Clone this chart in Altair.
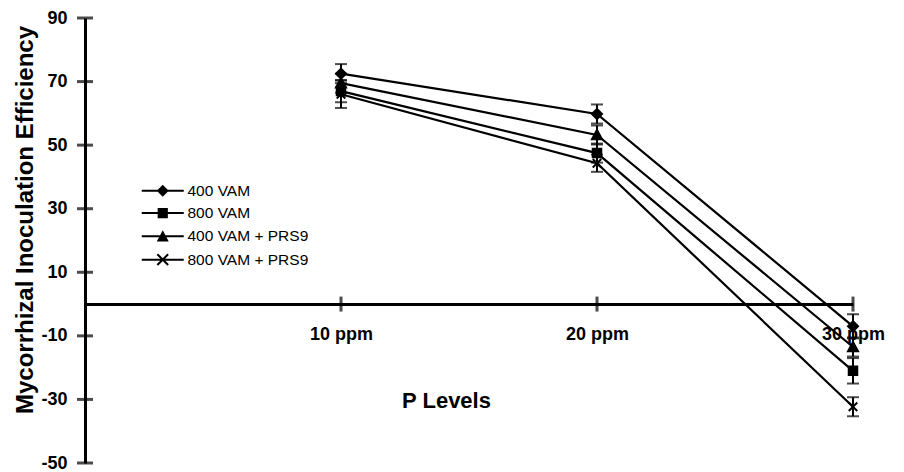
import altair as alt
import pandas as pd

# ---- data ----
levels = [10, 20, 30]                      # P levels (ppm)
series = ["400 VAM", "800 VAM", "400 VAM + PRS9", "800 VAM + PRS9"]
vam400 = [72.5, 59.8, -7.0]
vam800 = [67.0, 47.5, -21.0]
vam400_prs9 = [69.5, 53.2, -13.5]
vam800_prs9 = [66.0, 44.3, -32.3]
err400 = [3.0, 3.0, 3.8]
err800 = [3.5, 3.0, 4.0]
err400_prs9 = [3.0, 3.0, 3.0]
err800_prs9 = [4.3, 2.7, 3.0]
y_ticks = [-50, -30, -10, 10, 30, 50, 70, 90]

values = [vam400, vam800, vam400_prs9, vam800_prs9]
errors = [err400, err800, err400_prs9, err800_prs9]

rows = []
for s, vals, errs in zip(series, values, errors):
    for lv, v, e in zip(levels, vals, errs):
        rows.append({"series": s, "ppm": lv, "mie": v, "lo": v - e, "hi": v + e})
df = pd.DataFrame(rows)
xt = pd.DataFrame({"ppm": levels})
yt = pd.DataFrame({"v": y_ticks})

FONT = "Liberation Sans"

plot_shapes = [
    "M0,-1L1,0L0,1L-1,0Z",
    "M-0.85,-0.85L0.85,-0.85L0.85,0.85L-0.85,0.85Z",
    "M0,-1L1,0.85L-1,0.85Z",
    "M-0.85,-0.85L0.85,0.85M-0.85,0.85L0.85,-0.85",
]
# legend glyphs: a line through the marker, built from filled outlines only
LINE = "M-3.5,-0.17L3.5,-0.17L3.5,0.17L-3.5,0.17Z"
XSHAPE = ("M-0.78,-1.02L1.02,0.78L0.78,1.02L-1.02,-0.78Z"
          "M-0.78,1.02L-1.02,0.78L0.78,-1.02L1.02,-0.78Z")
legend_shapes = [
    LINE + "M0,-1L1,0L0,1L-1,0Z",
    LINE + "M-0.85,-0.85L0.85,-0.85L0.85,0.85L-0.85,0.85Z",
    LINE + "M0,-1L1,0.85L-1,0.85Z",
    LINE + XSHAPE,
]

x_enc = alt.X(
    "ppm:Q",
    scale=alt.Scale(domain=[0, 30], nice=False, zero=False),
    axis=alt.Axis(
        values=levels,
        labelExpr="datum.value + ' ppm'",
        offset=-158.9,
        ticks=False,
        tickSize=0,
        grid=False,
        domainColor="black",
        domainWidth=3,
        labelFont=FONT,
        labelFontSize=18,
        labelFontWeight="bold",
        labelColor="black",
        labelPadding=21,
        labelOverlap=False,
        labelFlush=False,
        title="P Levels",
        titleFont=FONT,
        titleFontSize=22,
        titleFontWeight="bold",
        titleColor="black",
        titleX=361,
        titleY=96,
        titleAlign="center",
        titleBaseline="middle",
    ),
)
y_enc = alt.Y(
    "mie:Q",
    scale=alt.Scale(domain=[-50, 90], nice=False, zero=False),
    axis=alt.Axis(
        values=y_ticks,
        labelExpr="'' + datum.value",
        ticks=False,
        tickSize=0,
        grid=False,
        domainColor="black",
        domainWidth=3,
        labelFont=FONT,
        labelFontSize=18,
        labelFontWeight="bold",
        labelColor="black",
        labelPadding=18,
        title="Mycorrhizal Inoculation Efficiency",
        titleFont=FONT,
        titleFontSize=24,
        titleFontWeight="bold",
        titleColor="black",
        titleAngle=270,
        titleX=-53,
        titleY=201.5,
        titleAlign="center",
        titleBaseline="alphabetic",
    ),
)

base = alt.Chart(df)

lines = base.mark_line(color="black", strokeWidth=2.2).encode(
    x=x_enc, y=y_enc, detail="series:N"
)
bars = base.mark_rule(color="black", strokeWidth=2).encode(
    x="ppm:Q", y="lo:Q", y2="hi:Q"
)
cap_lo = base.mark_tick(color="black", orient="horizontal", size=12, thickness=2).encode(
    x="ppm:Q", y="lo:Q"
)
cap_hi = base.mark_tick(color="black", orient="horizontal", size=12, thickness=2).encode(
    x="ppm:Q", y="hi:Q"
)
points = base.mark_point(
    filled=True, fill="black", stroke="black", strokeWidth=2, size=100, opacity=1
).encode(
    x="ppm:Q",
    y="mie:Q",
    shape=alt.Shape("series:N", scale=alt.Scale(domain=series, range=plot_shapes), legend=None),
)
legend_layer = base.transform_filter("false").mark_point(
    filled=True, fill="black", size=144, opacity=1
).encode(
    x="ppm:Q",
    y="mie:Q",
    shape=alt.Shape(
        "series:N",
        scale=alt.Scale(domain=series, range=legend_shapes),
        legend=alt.Legend(
            title=None,
            orient="none",
            legendX=70,
            legendY=165,
            padding=0,
            symbolSize=144,
            symbolFillColor="black",
            symbolOpacity=1,
            labelFont=FONT,
            labelFontSize=15.5,
            labelColor="black",
            labelOffset=17,
            rowPadding=4.3,
        ),
    ),
)
x_axis_ticks = alt.Chart(xt).mark_tick(
    color="black", orient="vertical", size=15, thickness=3
).encode(x="ppm:Q", y=alt.datum(0))
y_axis_ticks = alt.Chart(yt).mark_tick(
    color="black", orient="horizontal", size=16, thickness=3
).encode(y="v:Q", x=alt.value(0))

chart = (
    alt.layer(lines, bars, cap_lo, cap_hi, points, legend_layer, x_axis_ticks, y_axis_ticks)
    .resolve_scale(shape="independent")
    .properties(
        width=768,
        height=445,
        autosize=alt.AutoSizeParams(type="none"),
        padding={"left": 77, "top": 10, "right": 43, "bottom": 12},
        background="white",
    )
    .configure_view(stroke=None)
)

chart.save("out.html", embed_options={"renderer": "svg", "actions": False})
